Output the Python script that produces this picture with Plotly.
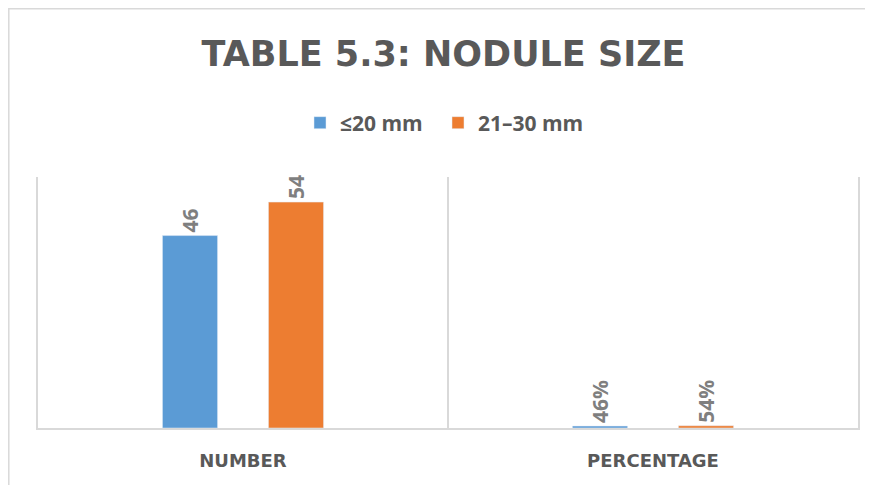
import plotly.graph_objects as go

categories = ["NUMBER", "PERCENTAGE"]
series_names = ["≤20 mm", "21–30 mm"]
le20_values = [46, 0.46]
le20_labels = ["46", "46%"]
s21_30_values = [54, 0.54]
s21_30_labels = ["54", "54%"]
colors = ["#5B9BD5", "#ED7D31"]

# page has an 8px body margin, so the figure is shifted by (8, 8)
OFF = 8
W, H = 873 - OFF, 485 - OFF
ml, mr, mt, mb = 38 - OFF, 15, 177 - OFF, 57

fig = go.Figure()
for name, vals, labels, col, leg in [
    (series_names[0], le20_values, le20_labels, colors[0], "legend"),
    (series_names[1], s21_30_values, s21_30_labels, colors[1], "legend2"),
]:
    fig.add_trace(go.Bar(
        x=categories, y=vals, name=name, marker_color=col,
        text=labels, textposition="outside", textangle=-90,
        textfont=dict(family="Open Sans", size=21, color="#7f7f7f", weight="bold"),
        cliponaxis=False, legend=leg,
    ))

pw = W - ml - mr
ph = H - mt - mb

def px_to_paper_x(px):
    return (px - OFF - ml) / pw

def px_to_paper_y(py):
    return (H - mb - (py - OFF)) / ph

legend_font = dict(family="Open Sans", size=21, color="#595959", weight="bold")

fig.update_layout(
    width=W, height=H,
    margin=dict(l=ml, r=mr, t=mt, b=mb),
    paper_bgcolor="white", plot_bgcolor="white",
    barmode="group", bargap=0.483, bargroupgap=0.48,
    title=dict(
        text="<b>TABLE 5.3: NODULE SIZE</b>",
        x=(443.5 - OFF) / W, xref="container", xanchor="center",
        y=1 - (54 - OFF) / H, yref="container", yanchor="middle",
        font=dict(family="DejaVu Sans", size=35, color="#595959"),
    ),
    legend=dict(
        orientation="h", x=px_to_paper_x(300), xanchor="left",
        y=px_to_paper_y(123), yanchor="middle", font=legend_font,
    ),
    legend2=dict(
        orientation="h", x=px_to_paper_x(438), xanchor="left",
        y=px_to_paper_y(123), yanchor="middle", font=legend_font,
    ),
    xaxis=dict(
        tickson="boundaries", showgrid=True, gridcolor="#d9d9d9", gridwidth=1.5,
        ticks="", showline=True, linecolor="#d9d9d9", linewidth=1.5,
        tickfont=dict(family="DejaVu Sans", size=18, color="#595959", weight="bold"),
        ticklabelstandoff=16,
        fixedrange=True,
    ),
    yaxis=dict(
        range=[0, 60], showgrid=False, zeroline=False, showticklabels=False,
        ticks="", showline=True, mirror=True, linecolor="#d9d9d9", linewidth=1.5,
        fixedrange=True,
    ),
    showlegend=True,
    shapes=[
        dict(type="rect", xref="paper", yref="paper",
             x0=px_to_paper_x(8.8), x1=px_to_paper_x(900),
             y0=px_to_paper_y(520), y1=px_to_paper_y(8.8),
             line=dict(color="#d9d9d9", width=1.5), layer="below"),
    ],
)

fig.write_html("out.html")
